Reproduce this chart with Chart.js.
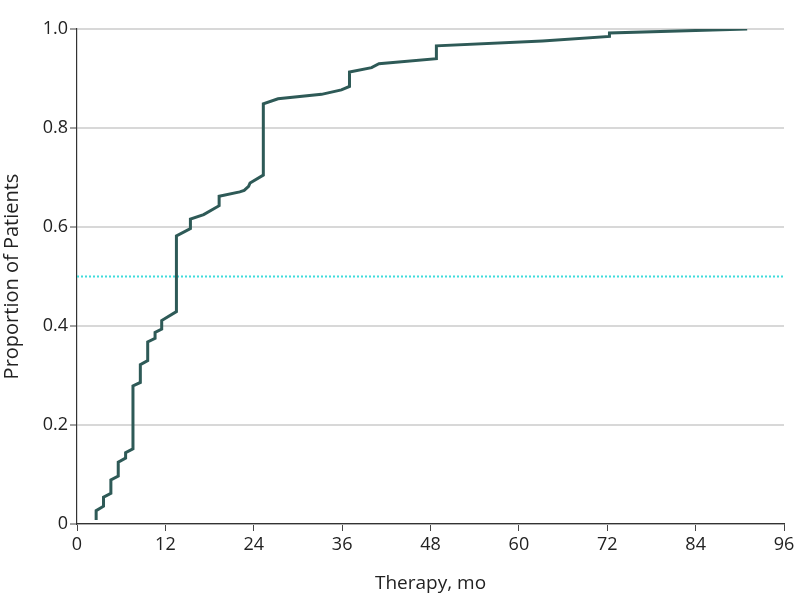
<!DOCTYPE html>
<html>
<head>
<meta charset="utf-8">
<script src="https://cdn.jsdelivr.net/npm/chart.js@4/dist/chart.umd.min.js"></script>
<style>
html,body{margin:0;padding:0;background:#fff;}
#wrap{width:798px;height:609px;}
</style>
</head>
<body>
<div id="wrap"><canvas id="c" width="798" height="609"></canvas></div>
<script>
const months = [2.6,2.6,3.6,3.6,4.6,4.6,5.6,5.6,6.6,6.6,7.6,7.6,8.6,8.6,9.6,9.6,10.6,10.6,11.5,11.5,13.5,13.5,15.4,15.4,17.2,19.3,19.3,22.1,22.7,23.3,23.5,25.3,25.3,27.3,33.2,35.9,37.0,37.0,40.0,41.0,48.8,48.8,63.2,72.3,72.3,91.0];
const proportions = [0.008,0.027,0.036,0.054,0.062,0.089,0.097,0.125,0.133,0.144,0.152,0.279,0.286,0.322,0.330,0.368,0.375,0.387,0.394,0.411,0.429,0.582,0.597,0.616,0.625,0.643,0.662,0.671,0.674,0.682,0.689,0.705,0.849,0.859,0.868,0.877,0.884,0.913,0.922,0.930,0.940,0.966,0.976,0.985,0.992,1.0];
const medianX = [0, 96];
const medianY = [0.5, 0.5];
const xTicks = [0,12,24,36,48,60,72,84,96];
const yTicks = [0,0.2,0.4,0.6,0.8,1.0];

const font = "'Open Sans', 'Noto Sans', sans-serif";
new Chart(document.getElementById('c'), {
  type: 'scatter',
  data: {
    datasets: [
      {
        data: months.map((m,i)=>({x:m,y:proportions[i]})),
        showLine: true,
        borderColor: '#2e5a57',
        borderWidth: 3,
        pointRadius: 0,
        tension: 0,
        borderJoinStyle: 'miter',
        order: 0
      },
      {
        data: medianX.map((m,i)=>({x:m,y:medianY[i]})),
        showLine: true,
        borderColor: '#3fdcdc',
        borderWidth: 2,
        borderDash: [2,2],
        pointRadius: 0,
        order: 1
      }
    ]
  },
  options: {
    responsive: false,
    animation: false,
    devicePixelRatio: 1,
    layout: {padding: {top: 29, right: 14, left: 0, bottom: 14}},
    plugins: {legend: {display: false}, tooltip: {enabled: false}},
    scales: {
      x: {
        type: 'linear', min: 0, max: 96,
        afterBuildTicks: s => { s.ticks = xTicks.map(v=>({value:v})); },
        afterFit: s => { s.height = 71; },
        ticks: {color: '#222', font: {family: font, size: 18}, padding: 3},
        grid: {drawOnChartArea: false, drawTicks: true, tickLength: 7, tickColor: '#444', tickWidth: 1},
        border: {color: '#333', width: 1.2},
        title: {display: true, text: 'Therapy, mo', color: '#222', font: {family: font, size: 19}, padding: {top: 4, bottom: 0}}
      },
      y: {
        type: 'linear', min: 0, max: 1,
        afterBuildTicks: s => { s.ticks = yTicks.map(v=>({value:v})); },
        afterFit: s => { s.width = 77; },
        ticks: {color: '#222', font: {family: font, size: 18}, padding: 2,
          callback: v => v === 0 ? '0' : v.toFixed(1)},
        grid: {color: '#d8d8d8', lineWidth: 2, drawTicks: true, tickLength: 7, tickColor: '#444', tickWidth: 1},
        border: {color: '#333', width: 1.2},
        title: {display: true, text: 'Proportion of Patients', color: '#222', font: {family: font, size: 20}, padding: {top: 0, bottom: 4}}
      }
    }
  }
});
</script>
</body>
</html>
